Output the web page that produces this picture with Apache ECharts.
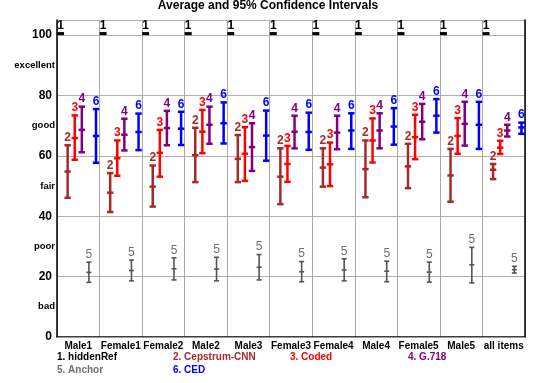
<!DOCTYPE html>
<html>
<head>
<meta charset="utf-8">
<script src="https://cdn.jsdelivr.net/npm/echarts@6/dist/echarts.min.js"></script>
<style>html,body{margin:0;padding:0;background:#fff;}#c{width:536px;height:383px;}</style>
</head>
<body>
<div id="c"></div>
<script>
const categories = ['Male1','Female1','Female2','Male2','Male3','Female3','Female4','Male4','Female5','Male5','all items'];
const yTicks = [0, 20, 40, 60, 80, 100];
const qualityLabels = {10: 'bad', 30: 'poor', 50: 'fair', 70: 'good', 90: 'excellent'};

const refMean = [100,100,100,100,100,100,100,100,100,100,100];

const cnnMean = [54.8, 47.8, 49.8, 60.2, 59.0, 53.1, 56.1, 55.6, 56.5, 53.5, 55.4];
const cnnLow  = [46.1, 41.4, 43.2, 51.3, 51.3, 44.0, 49.8, 46.3, 49.3, 44.8, 52.3];
const cnnHigh = [63.5, 54.3, 56.8, 69.3, 66.9, 62.5, 62.5, 65.1, 64.0, 62.3, 57.3];

const codedMean = [65.9, 59.2, 61.0, 68.0, 60.7, 57.3, 57.2, 65.1, 66.2, 66.6, 62.7];
const codedLow  = [58.7, 53.4, 53.1, 60.9, 51.7, 51.4, 50.0, 57.8, 58.9, 60.7, 60.6];
const codedHigh = [73.4, 65.1, 68.6, 75.2, 69.5, 63.3, 64.4, 72.4, 73.6, 72.5, 65.0];

const g718Mean = [68.6, 67.0, 69.2, 70.3, 62.9, 68.0, 67.7, 68.4, 71.3, 70.6, 68.4];
const g718Low  = [61.2, 61.8, 63.5, 64.0, 55.0, 62.5, 62.2, 62.5, 65.5, 63.4, 66.4];
const g718High = [76.3, 72.3, 74.9, 76.3, 70.8, 73.3, 73.3, 74.1, 77.2, 77.9, 70.3];

const anchorMean = [21.4, 22.0, 22.6, 22.5, 23.1, 21.6, 22.2, 21.8, 21.5, 23.9, 22.3];
const anchorLow  = [18.1, 18.6, 18.9, 18.6, 18.9, 18.3, 18.6, 18.3, 18.2, 17.9, 21.2];
const anchorHigh = [24.8, 25.5, 26.2, 26.4, 27.3, 25.0, 25.9, 25.1, 24.8, 29.7, 23.4];

const cedMean = [66.6, 67.9, 69.0, 70.8, 66.7, 67.9, 68.4, 69.7, 73.3, 70.3, 69.4];
const cedLow  = [57.7, 61.9, 63.6, 64.1, 58.4, 62.0, 62.3, 63.7, 67.7, 62.3, 67.3];
const cedHigh = [75.5, 74.0, 74.6, 77.7, 75.0, 74.3, 74.1, 75.8, 78.8, 77.9, 71.0];

const systems = [
  {num: 1, name: 'hiddenRef',     color: '#000000', textColor: '#000000', mean: refMean,    low: refMean,    high: refMean},
  {num: 2, name: 'Cepstrum-CNN',  color: '#a52a2a', textColor: '#a52a2a', mean: cnnMean,    low: cnnLow,     high: cnnHigh},
  {num: 3, name: 'Coded',         color: '#ff0000', textColor: '#ff0000', mean: codedMean,  low: codedLow,   high: codedHigh},
  {num: 4, name: 'G.718',         color: '#800080', textColor: '#800080', mean: g718Mean,   low: g718Low,    high: g718High},
  {num: 5, name: 'Anchor',        color: '#555555', textColor: '#707070', mean: anchorMean, low: anchorLow,  high: anchorHigh},
  {num: 6, name: 'CED',           color: '#0000ff', textColor: '#0000ff', mean: cedMean,    low: cedLow,     high: cedHigh}
];

function makeSeries(s) {
  const data = categories.map((c, i) => [i, s.mean[i], s.low[i], s.high[i]]);
  return {
    type: 'custom',
    name: s.name,
    xAxisIndex: 0,
    yAxisIndex: 0,
    data: data,
    clip: false,
    renderItem: function (params, api) {
      const idx = api.value(0);
      const cM = api.coord([idx, api.value(1)]);
      const bw = api.size([1, 0])[0];
      const x = cM[0] + (s.num - 3.5) / 6 * bw;
      const yM = cM[1];
      const yL = api.coord([idx, api.value(2)])[1];
      const yH = api.coord([idx, api.value(3)])[1];
      const children = [];
      if (s.num === 1) {
        children.push({type: 'rect', shape: {x: x - 3.5, y: yM - 3, width: 7, height: 3}, style: {fill: s.color}});
        children.push({type: 'text', style: {x: x, y: yM - 3, text: '1', fill: s.textColor,
          font: 'bold 12px "Liberation Sans", Arial, sans-serif', textAlign: 'center', textVerticalAlign: 'bottom'}});
      } else {
        const lw = s.num === 5 ? 1.6 : 2.5;
        const hw = s.num === 5 ? 2.5 : 3.2;
        const st = {stroke: s.color, lineWidth: lw};
        children.push({type: 'line', shape: {x1: x, y1: yL, x2: x, y2: yH}, style: st});
        children.push({type: 'line', shape: {x1: x - hw, y1: yL, x2: x + hw, y2: yL}, style: st});
        children.push({type: 'line', shape: {x1: x - hw, y1: yH, x2: x + hw, y2: yH}, style: st});
        children.push({type: 'line', shape: {x1: x - hw, y1: yM, x2: x + hw, y2: yM}, style: st});
        children.push({type: 'text', style: {x: x, y: yH - 1.5, text: String(s.num), fill: s.textColor,
          font: (s.num === 5 ? 'normal' : 'bold') + ' 12px "Liberation Sans", Arial, sans-serif',
          textAlign: 'center', textVerticalAlign: 'bottom'}});
      }
      return {type: 'group', children: children};
    }
  };
}

const chart = echarts.init(document.getElementById('c'), null, {renderer: 'canvas'});
const legendCols = [57, 173, 290, 408];
const legendGraphics = systems.map((s, i) => {
  const col = i < 4 ? i : i - 4;
  const row = i < 4 ? 0 : 1;
  return {
    type: 'text', left: legendCols[col], top: 352 + row * 13,
    style: {text: s.num + '. ' + s.name, fill: s.textColor, font: 'bold 10px "Liberation Sans", Arial, sans-serif'}
  };
});

chart.setOption({
  animation: false,
  backgroundColor: '#ffffff',
  grid: {left: 57, right: 11, top: 20, bottom: 46},
  graphic: [
    {type: 'text', left: 'center', top: 0,
     style: {text: 'Average and 95% Confidence Intervals', fill: '#000', font: 'bold 12px "Liberation Sans", Arial, sans-serif'}}
  ].concat(legendGraphics),
  xAxis: [
    {
      type: 'category', data: categories, position: 'bottom', boundaryGap: true,
      axisLine: {show: true, lineStyle: {color: '#000', width: 1.5}},
      axisTick: {show: false},
      axisLabel: {color: '#000', fontWeight: 'bold', fontSize: 10, margin: 4, interval: 0,
        fontFamily: '"Liberation Sans", Arial, sans-serif'},
      splitLine: {show: true, interval: 0, lineStyle: {color: '#a8a8a8', width: 1}}
    },
    {
      type: 'category', data: categories, position: 'top', boundaryGap: true,
      axisLine: {show: true, lineStyle: {color: '#999', width: 1}},
      axisTick: {show: false}, axisLabel: {show: false}, splitLine: {show: false}
    }
  ],
  yAxis: [
    {
      type: 'value', min: 0, max: 105, interval: 20, position: 'left',
      axisLine: {show: true, lineStyle: {color: '#000', width: 1.5}},
      axisTick: {show: false},
      axisLabel: {color: '#000', fontWeight: 'bold', fontSize: 12, margin: 5,
        fontFamily: '"Liberation Sans", Arial, sans-serif',
        formatter: function (v) { return yTicks.indexOf(v) >= 0 ? String(v) : ''; }},
      splitLine: {show: true, lineStyle: {color: '#b0b0b0', width: 1}}
    },
    {
      type: 'value', min: 0, max: 105, interval: 10, position: 'left',
      axisLine: {show: false}, axisTick: {show: false}, splitLine: {show: false},
      axisLabel: {color: '#000', fontWeight: 'bold', fontSize: 9.5, margin: 2,
        fontFamily: '"Liberation Sans", Arial, sans-serif',
        formatter: function (v) { return qualityLabels[v] || ''; }}
    },
    {
      type: 'value', min: 0, max: 105, position: 'right',
      axisLine: {show: true, lineStyle: {color: '#000', width: 1.5}},
      axisTick: {show: false}, axisLabel: {show: false}, splitLine: {show: false}
    }
  ],
  series: systems.map(makeSeries)
});
</script>
</body>
</html>
